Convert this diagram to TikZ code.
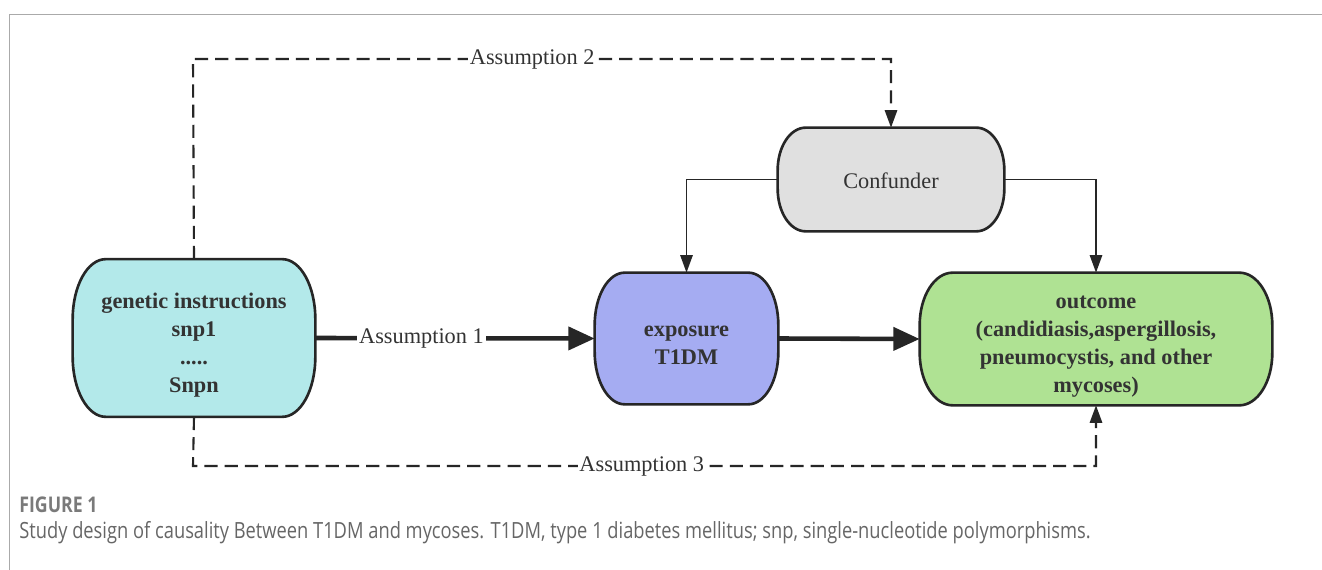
\documentclass[tikz,border=0pt]{standalone}
\usepackage{fontspec}
\setmainfont{Liberation Serif}
\newfontfamily\capfont[FakeStretch=0.82]{Open Sans}
\usetikzlibrary{arrows.meta,backgrounds}
\definecolor{genfill}{HTML}{B3E9EA}
\definecolor{expfill}{HTML}{A5ACF2}
\definecolor{outfill}{HTML}{AFE293}
\definecolor{conffill}{HTML}{E0E0E0}
\definecolor{txt}{HTML}{333333}
\definecolor{edge}{HTML}{262626}
\definecolor{framegray}{HTML}{AAAAAA}
\definecolor{capgray}{HTML}{666666}
\definecolor{figgray}{HTML}{7A7A7A}
\newcommand\capsule[4]{%
  \begin{pgfonlayer}{background}
  \draw[boxline,fill=#2]
    ([xshift=#3]#1.north west) -- ([xshift=-#3]#1.north east)
    arc[start angle=90,end angle=0,x radius=#3,y radius=#4]
    -- ([yshift=#4]#1.south east)
    arc[start angle=0,end angle=-90,x radius=#3,y radius=#4]
    -- ([xshift=#3]#1.south west)
    arc[start angle=270,end angle=180,x radius=#3,y radius=#4]
    -- ([yshift=-#4]#1.north west)
    arc[start angle=180,end angle=90,x radius=#3,y radius=#4]
    -- cycle;
  \end{pgfonlayer}}
\tikzset{
  boxline/.style={draw=edge,line width=1.5pt},
  boxshape/.style={rectangle,inner sep=0pt},
  boxtext/.style={rectangle,inner sep=0pt,align=center,text=txt,
    font=\fontsize{12.7}{15.9}\selectfont\bfseries},
  thickarrow/.style={draw=edge,line width=2.6pt,
    -{Triangle[length=15pt,width=13pt]}},
  thinarrow/.style={draw=edge,line width=1.1pt,
    -{Triangle[length=10pt,width=7pt]}},
  dasharrow/.style={draw=edge,line width=1.2pt,dash pattern=on 7.5pt off 4pt,
    -{Triangle[length=10pt,width=7pt]}},
  lbl/.style={fill=white,inner sep=1pt,text=txt,
    font=\fontsize{12.7}{15.9}\selectfont},
}
\begin{document}
\begin{tikzpicture}[x=0.02cm,y=-0.02cm]
\useasboundingbox (0,0) rectangle (1322,570);
\begin{pgfonlayer}{background}
\fill[white] (0,0) rectangle (1322,570);
\end{pgfonlayer}
% frame
\draw[framegray,line width=1.1pt] (9.5,570) -- (9.5,14.5) -- (1322,14.5);
% boxes
\node[boxshape,minimum width=4.84cm,minimum height=3.14cm] (gen) at (194,338) {};
\node[boxshape,minimum width=3.66cm,minimum height=2.62cm] (exp) at (686.5,338.5) {};
\node[boxshape,minimum width=7.04cm,minimum height=2.64cm] (out) at (1096,339) {};
\node[boxshape,minimum width=4.52cm,minimum height=2.06cm] (conf) at (891,179.5) {};
\capsule{gen}{genfill}{0.66cm}{1.2cm}
\capsule{exp}{expfill}{0.6cm}{1.05cm}
\capsule{out}{outfill}{0.66cm}{1.05cm}
\capsule{conf}{conffill}{0.56cm}{0.85cm}
% box texts
\node[boxtext] (gentxt) at (194,345) {genetic instructions\\snp1\\.....\\Snpn};
\node[boxtext] (exptxt) at (686.5,345.5) {exposure\\T1DM};
\node[boxtext] (outtxt) at (1096,347) {outcome\\(candidiasis,aspergillosis,\\pneumocystis, and other\\mycoses)};
\node[boxtext,font=\fontsize{12.7}{15.9}\selectfont] (conftxt) at (891,181) {Confunder};
% coordinates for dashed paths
\coordinate (a2l) at (193,59);
\coordinate (a2r) at (891,59);
\coordinate (a3l) at (193,466);
\coordinate (a3r) at (1096,466);
% connectors
\draw[thickarrow] (gen.east) -- node[lbl,pos=0.38]{Assumption 1} (exp.west);
\draw[thickarrow] (exp.east) -- (out.west);
\draw[thinarrow] (conf.west) -| (exp.north);
\draw[thinarrow] (conf.east) -| (out.north);
\draw[dasharrow] (gen.north) -- (a2l) -- node[lbl,pos=0.486]{Assumption 2} (a2r) -- (conf.north);
\draw[dasharrow] (gen.south) -- (a3l) -- node[lbl,pos=0.497]{Assumption 3} (a3r) -- (out.south);
% caption
\node[anchor=west,inner sep=0pt,text=figgray,font=\capfont\fontsize{12.3}{14}\selectfont\bfseries] (fig) at (19,505) {FIGURE 1};
\node[anchor=west,inner sep=0pt,text=capgray,font=\capfont\fontsize{12.7}{15}\selectfont] (cap) at (19,533)
  {Study design of causality Between T1DM and mycoses. T1DM, type 1 diabetes mellitus; snp, single-nucleotide polymorphisms.};
\end{tikzpicture}
\end{document}
